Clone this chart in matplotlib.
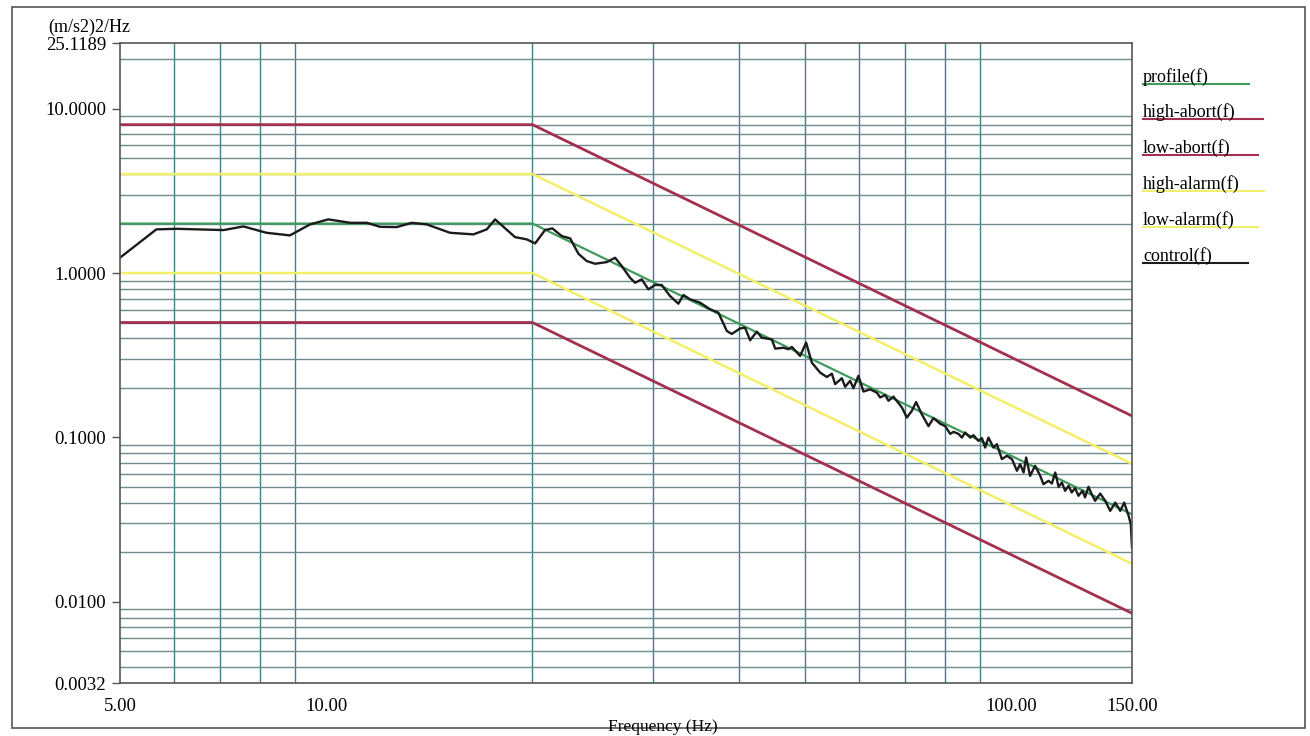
import matplotlib
matplotlib.use("Agg")
import matplotlib.pyplot as plt
from matplotlib.patches import Rectangle
from matplotlib.lines import Line2D
from matplotlib.ticker import FixedLocator, NullFormatter

plt.rcParams['font.family'] = ['Liberation Serif', 'DejaVu Serif']

# Reference profile and tolerance bands (breakpoints, Hz)
bp_freq = [5.0, 20.0, 150.0]
profile_psd = [2.0, 2.0, 0.034]
high_abort_psd = [8.0, 8.0, 0.135]
low_abort_psd = [0.5, 0.5, 0.0085]
high_alarm_psd = [4.0, 4.0, 0.069]
low_alarm_psd = [1.0, 1.0, 0.017]

# Measured control spectrum
control_freq = [
    5.00, 5.65, 6.05, 6.54, 7.08, 7.57, 8.18, 8.85, 9.47, 10.07,
    10.84, 11.46, 11.98, 12.67, 13.33, 14.02, 15.16, 16.40, 17.15, 17.64,
    18.86, 19.62, 20.18, 20.86, 21.38, 22.07, 22.70, 23.34, 24.00, 24.68,
    25.67, 26.40, 27.00, 27.76, 28.24, 28.88, 29.52, 30.20, 30.88, 31.75,
    32.66, 33.21, 33.97, 35.13, 36.33, 37.36, 38.43, 39.08, 40.18, 40.86,
    41.56, 42.51, 43.23, 44.71, 45.21, 46.48, 47.27, 47.82, 49.16, 50.17,
    51.14, 52.58, 53.78, 54.70, 55.31, 56.57, 57.20, 58.17, 58.81, 59.81,
    60.83, 62.22, 63.64, 64.35, 65.44, 66.16, 67.28, 69.22, 70.39, 71.57,
    72.61, 74.03, 75.69, 76.97, 78.73, 80.07, 81.42, 82.33, 83.72, 84.68,
    85.62, 87.07, 88.04, 89.53, 90.57, 91.57, 92.59, 94.16, 95.24, 96.86,
    98.50, 100.2, 101.9, 103.0, 104.2, 105.1, 106.5, 108.3, 110.2, 111.4,
    113.3, 114.6, 115.9, 117.2, 118.5, 119.8, 121.2, 122.5, 123.9, 125.3,
    127.0, 128.1, 129.6, 131.0, 132.5, 134.8, 137.1, 139.4, 141.8, 144.2,
    146.1, 148.3, 149.4, 150.0,
]
control_psd = [
    1.24, 1.844, 1.859, 1.844, 1.826, 1.922, 1.758, 1.695, 1.977, 2.121,
    2.022, 2.022, 1.912, 1.904, 2.022, 1.977, 1.758, 1.719, 1.844, 2.121,
    1.655, 1.603, 1.515, 1.826, 1.870, 1.679, 1.625, 1.310, 1.183, 1.139,
    1.166, 1.239, 1.103, 0.936, 0.873, 0.916, 0.796, 0.846, 0.846, 0.725,
    0.651, 0.735, 0.692, 0.660, 0.602, 0.574, 0.444, 0.426, 0.460, 0.465,
    0.390, 0.440, 0.404, 0.395, 0.347, 0.351, 0.344, 0.355, 0.313, 0.377,
    0.285, 0.248, 0.233, 0.244, 0.211, 0.229, 0.203, 0.221, 0.199, 0.237,
    0.190, 0.196, 0.187, 0.175, 0.181, 0.167, 0.177, 0.152, 0.132, 0.145,
    0.164, 0.138, 0.117, 0.131, 0.121, 0.117, 0.105, 0.108, 0.105, 0.0997,
    0.107, 0.0997, 0.103, 0.0952, 0.0989, 0.0867, 0.0997, 0.0867, 0.0909, 0.0737,
    0.0772, 0.0737, 0.0626, 0.0687, 0.0611, 0.0754, 0.0583, 0.0671, 0.0583, 0.0519,
    0.0544, 0.0524, 0.0611, 0.0500, 0.0531, 0.0473, 0.0507, 0.0462, 0.0491, 0.0441,
    0.0473, 0.0431, 0.0500, 0.0451, 0.0411, 0.0455, 0.0411, 0.0357, 0.0401, 0.0357,
    0.0401, 0.0333, 0.0297, 0.0214,
]

x_min, x_max = 5.0, 150.0
y_min, y_max = 0.0032, 25.1189
x_tick_vals = [5.0, 10.0, 100.0, 150.0]
x_tick_labels = ['5.00', '10.00', '100.00', '150.00']
y_tick_vals = [0.0032, 0.01, 0.1, 1.0, 10.0, 25.1189]
y_tick_labels = ['0.0032', '0.0100', '0.1000', '1.0000', '10.0000', '25.1189']
x_grid = [6, 7, 8, 9, 10, 20, 30, 40, 50, 60, 70, 80, 90, 100]
y_grid = [k * 10.0 ** e for e in range(-3, 2) for k in range(1, 10)]
y_grid = [v for v in y_grid if y_min < v < y_max]

legend_names = ['profile(f)', 'high-abort(f)', 'low-abort(f)',
                'high-alarm(f)', 'low-alarm(f)', 'control(f)']

c_profile = '#3f9a5c'
c_abort = '#a3304e'
c_alarm = '#f2f06a'
c_control = '#1b1b1b'
c_vgrid = '#3f7f86'
c_hgrid = '#6f8a8e'
c_frame = '#555555'
fs = 12.5
fs_tick = 13.5
fs_leg = 13

W, H = 1310, 736
fig = plt.figure(figsize=(W / 100, H / 100), dpi=100)
ax = fig.add_axes([120 / W, 1 - 683 / H, 1012 / W, 640 / H])
ax.set_xscale('log')
ax.set_yscale('log')
ax.set_xlim(x_min, x_max)
ax.set_ylim(y_min, y_max)

# grid drawn from minor tick positions
ax.xaxis.set_minor_locator(FixedLocator(x_grid))
ax.yaxis.set_minor_locator(FixedLocator(y_grid))
ax.xaxis.set_minor_formatter(NullFormatter())
ax.yaxis.set_minor_formatter(NullFormatter())
ax.xaxis.grid(True, which='minor', color=c_vgrid, lw=1.0)
ax.yaxis.grid(True, which='minor', color=c_hgrid, lw=1.0)
ax.grid(False, which='major')
ax.set_axisbelow(True)

ax.set_xticks(x_tick_vals)
ax.set_xticklabels(x_tick_labels)
ax.set_yticks(y_tick_vals)
ax.set_yticklabels(y_tick_labels)
ax.tick_params(axis='x', which='major', length=0, pad=11, labelsize=fs_tick)
ax.tick_params(axis='y', which='major', length=6, width=1, color=c_frame,
               pad=4, labelsize=fs_tick)
ax.tick_params(which='minor', length=0)
for sp in ax.spines.values():
    sp.set_color(c_frame)
    sp.set_linewidth(1.2)

ax.plot(bp_freq, high_abort_psd, color=c_abort, lw=2.0)
ax.plot(bp_freq, low_abort_psd, color=c_abort, lw=2.0)
ax.plot(bp_freq, high_alarm_psd, color=c_alarm, lw=1.8)
ax.plot(bp_freq, low_alarm_psd, color=c_alarm, lw=1.8)
ax.plot(bp_freq, profile_psd, color=c_profile, lw=1.6)
ax.plot(control_freq, control_psd, color=c_control, lw=1.7)

# unit label above the y axis
fig.text(48 / W, 1 - 27 / H, '(m/s2)2/Hz', fontsize=fs_leg, ha='left', va='center')
fig.text(663 / W, 1 - 727 / H, 'Frequency (Hz)', fontsize=fs,
         ha='center', va='center')

# legend: names with coloured underlines
legend_colors = [c_profile, c_abort, c_abort, c_alarm, c_alarm, c_control]
legend_y = [77, 112, 148, 184, 220, 256]
legend_end = [1249, 1263, 1258, 1264, 1258, 1248]
for name, col, yy, xe in zip(legend_names, legend_colors, legend_y, legend_end):
    fig.text(1143 / W, 1 - yy / H, name, fontsize=fs_leg, ha='left', va='center')
    fig.add_artist(Line2D([1143 / W, xe / W], [1 - (yy + 7) / H] * 2,
                          transform=fig.transFigure, color=col, lw=1.5))

# outer frame
fig.add_artist(Rectangle((12 / W, 1 - 728 / H), (1305 - 12) / W, (728 - 7) / H,
                         transform=fig.transFigure, fill=False,
                         edgecolor=c_frame, lw=1.2))

fig.savefig('out.png', dpi=100)
